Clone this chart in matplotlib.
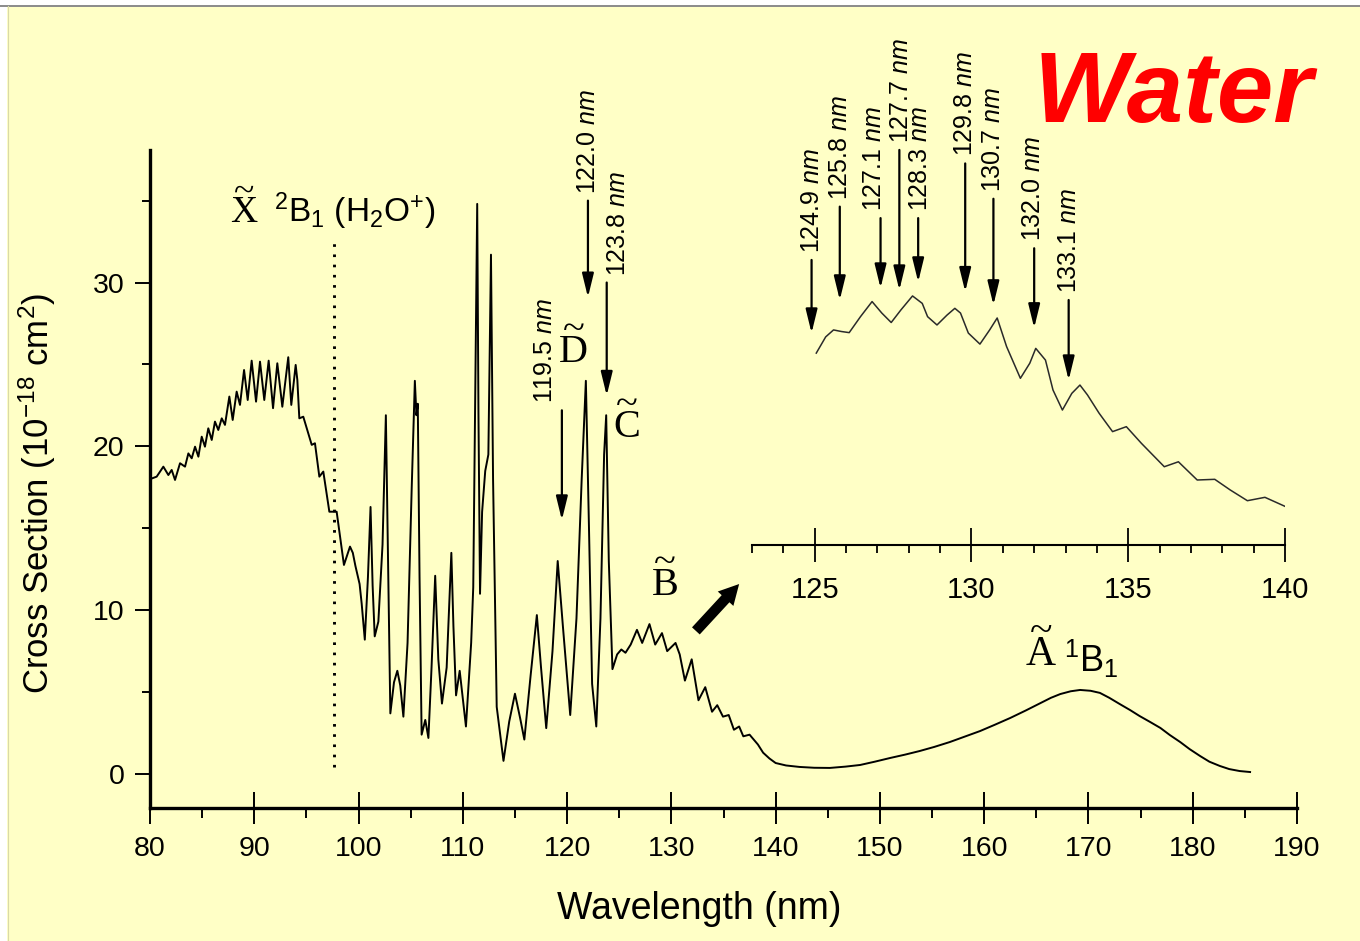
import matplotlib
matplotlib.use("Agg")
import matplotlib.pyplot as plt
from matplotlib.patches import Rectangle, FancyArrowPatch
from matplotlib.lines import Line2D
from matplotlib.ticker import MultipleLocator, FixedLocator

plt.rcParams["font.family"] = ["Liberation Sans", "DejaVu Sans"]
plt.rcParams["mathtext.fontset"] = "custom"
plt.rcParams["mathtext.rm"] = "Liberation Sans"
plt.rcParams["mathtext.it"] = "Liberation Sans:italic"
plt.rcParams["mathtext.bf"] = "Liberation Sans:bold"

# ---------------------------------------------------------------------------
# Photoabsorption cross section of H2O (10^-18 cm^2) versus wavelength (nm)
# ---------------------------------------------------------------------------
wavelength = [
    80.0, 80.64, 81.28, 81.76, 82.08, 82.4, 82.88, 83.36, 83.68, 84.0,
    84.32, 84.64, 84.96, 85.27, 85.59, 85.92, 86.23, 86.55, 86.88, 87.19,
    87.61, 87.93, 88.31, 88.63, 89.02, 89.37, 89.75, 90.17, 90.55, 90.96,
    91.38, 91.8, 92.21, 92.69, 93.26, 93.55, 93.97, 94.13, 94.32, 94.7,
    95.03, 95.51, 95.82, 96.24, 96.62, 97.2, 97.9, 98.6, 99.18, 99.45,
    99.7, 100.1, 100.3, 100.6, 100.9, 101.15, 101.35, 101.55, 101.9, 102.3,
    102.62, 102.85, 103.05, 103.4, 103.72, 104.0, 104.3, 104.7, 105.1, 105.4,
    105.55, 105.68, 105.85, 106.05, 106.4, 106.7, 107.0, 107.35, 107.65, 108.0,
    108.45, 108.9, 109.1, 109.35, 109.7, 110.3, 110.8, 111.0, 111.2, 111.38,
    111.5, 111.65, 111.85, 112.15, 112.45, 112.7, 112.9, 113.25, 113.9, 114.45,
    115.0, 115.5, 115.9, 116.5, 117.1, 117.5, 118.0, 118.6, 119.1, 119.6,
    120.3, 120.9, 121.4, 121.8, 122.1, 122.4, 122.8, 123.2, 123.55, 123.75,
    124.0, 124.35, 124.8, 125.2, 125.6, 126.1, 126.7, 127.2, 127.9, 128.45,
    129.1, 129.6, 130.4, 130.8, 131.3, 131.95, 132.6, 133.25, 133.9, 134.4,
    134.95, 135.5, 136.0, 136.5, 136.9, 137.5, 137.9, 138.3, 138.8, 139.4,
    140.0, 141.0, 142.3, 143.7, 145.2, 146.7, 148.1, 149.5, 151.0, 152.4,
    153.8, 155.2, 156.7, 158.1, 159.6, 161.0, 162.5, 164.0, 165.4, 166.4,
    167.3, 168.3, 169.2, 170.2, 171.1, 172.0, 173.0, 174.0, 174.9, 175.9,
    176.9, 177.8, 178.8, 179.7, 180.7, 181.6, 182.6, 183.5, 184.5, 185.5,
]
cross_section = [
    18.0, 18.15, 18.76, 18.25, 18.56, 17.95, 18.97, 18.76, 19.57, 19.27,
    19.98, 19.37, 20.59, 19.98, 21.1, 20.39, 21.51, 21.0, 21.71, 21.31,
    23.04, 21.61, 23.34, 22.53, 24.66, 22.83, 25.23, 22.73, 25.17, 22.83,
    25.23, 22.33, 25.07, 22.42, 25.44, 22.53, 24.97, 24.05, 21.71, 21.81,
    21.1, 20.09, 20.19, 18.15, 18.46, 16.01, 16.01, 12.76, 13.88, 13.5,
    12.7, 11.6, 10.4, 8.2, 12.0, 16.3, 11.5, 8.4, 9.3, 14.0,
    21.9, 12.0, 3.7, 5.6, 6.3, 5.4, 3.5, 8.0, 17.5, 24.0,
    21.9, 22.6, 12.0, 2.4, 3.3, 2.2, 6.5, 12.1, 7.0, 4.3,
    6.5, 13.5, 9.0, 4.8, 6.3, 2.9, 8.0, 11.4, 23.4, 34.8,
    22.0, 11.0, 16.0, 18.5, 19.5, 31.7, 18.0, 4.1, 0.8, 3.2,
    4.9, 3.4, 2.1, 6.0, 9.7, 6.5, 2.8, 7.5, 13.0, 9.0,
    3.6, 9.5, 18.0, 24.0, 15.0, 5.5, 2.9, 9.5, 19.5, 21.9,
    13.0, 6.4, 7.3, 7.6, 7.4, 7.9, 8.8, 8.0, 9.15, 7.9,
    8.6, 7.5, 8.0, 7.3, 5.7, 7.0, 4.5, 5.3, 3.8, 4.2,
    3.5, 3.6, 2.7, 2.9, 2.3, 2.4, 2.1, 1.8, 1.3, 0.95,
    0.67, 0.52, 0.43, 0.38, 0.37, 0.45, 0.55, 0.75, 0.98, 1.18,
    1.40, 1.65, 1.95, 2.27, 2.62, 3.0, 3.42, 3.88, 4.33, 4.65,
    4.88, 5.05, 5.13, 5.08, 4.95, 4.65, 4.27, 3.9, 3.54, 3.18,
    2.81, 2.38, 1.95, 1.52, 1.10, 0.75, 0.49, 0.30, 0.18, 0.12,
]

# Expanded view of the B-band region (125-140 nm)
zoom_wavelength = [
    125.05, 125.35, 125.6, 125.85, 126.1, 126.46, 126.83, 127.14, 127.44, 127.75,
    128.12, 128.43, 128.6, 128.9, 129.22, 129.47, 129.65, 129.9, 130.27, 130.58,
    130.82, 131.12, 131.56, 131.86, 132.05, 132.36, 132.6, 132.9, 133.2, 133.46,
    133.7, 134.07, 134.5, 134.94, 135.42, 136.15, 136.6, 137.2, 137.76, 138.25,
    138.8, 139.36, 140.03,
]
zoom_cross_section = [
    7.64, 8.36, 8.67, 8.6, 8.55, 9.26, 9.93, 9.42, 9.0, 9.56,
    10.18, 9.85, 9.26, 8.89, 9.33, 9.63, 9.42, 8.53, 8.04, 8.67,
    9.2, 7.93, 6.52, 7.19, 7.85, 7.33, 6.0, 5.11, 5.85, 6.22,
    5.78, 4.97, 4.15, 4.37, 3.63, 2.59, 2.81, 2.0, 2.03, 1.56,
    1.08, 1.23, 0.81,
]

# Marked band positions (nm) in the main panel and in the expanded view
main_marks = [119.5, 122.0, 123.8]
zoom_marks = [124.9, 125.8, 127.1, 127.7, 128.3, 129.8, 130.7, 132.0, 133.1]

main_ticks_x = [80, 90, 100, 110, 120, 130, 140, 150, 160, 170, 180, 190]
main_ticks_y = [0, 10, 20, 30]
zoom_ticks_x = [125, 130, 135, 140]

# ---------------------------------------------------------------------------
W, H = 1360, 941
BG = "#FFFFC6"
fig = plt.figure(figsize=(W / 100, H / 100), dpi=100)
fig.patch.set_facecolor("white")


def fx(px):
    return px / W


def fy(py):
    return 1 - py / H


fig.add_artist(Rectangle((fx(7), 0), 1, fy(6), transform=fig.transFigure,
                         facecolor=BG, edgecolor="none", zorder=-5))
fig.add_artist(Line2D([0, 1], [fy(5.5), fy(5.5)], transform=fig.transFigure,
                      color="#8a8a8a", lw=1.4))
fig.add_artist(Line2D([fx(7.5), fx(7.5)], [0, fy(6)], transform=fig.transFigure,
                      color="#d9d9a8", lw=0.8))

# ---------------- main panel ----------------
ax = fig.add_axes([fx(150), fy(808), fx(1297) - fx(150), fy(150) - fy(808)])
ax.set_facecolor("none")
ax.plot(wavelength, cross_section, color="black", lw=1.4, solid_joinstyle="round")
ax.set_xlim(80, 190)
ax.set_ylim(-2.076, 38.09)
for side in ("top", "right"):
    ax.spines[side].set_visible(False)
for side in ("left", "bottom"):
    ax.spines[side].set_linewidth(2.4)

ax.xaxis.set_major_locator(FixedLocator(main_ticks_x))
ax.xaxis.set_minor_locator(MultipleLocator(5))
ax.yaxis.set_major_locator(FixedLocator(main_ticks_y))
ax.yaxis.set_minor_locator(FixedLocator([5, 15, 25, 35]))
ax.tick_params(axis="x", which="major", direction="inout", length=23.5, width=1.4,
               pad=8.5, labelsize=20.5)
ax.tick_params(axis="x", which="minor", direction="out", length=7, width=1.4)
ax.tick_params(axis="y", which="major", direction="out", length=10.5, width=1.4,
               pad=8, labelsize=20.5)
ax.tick_params(axis="y", which="minor", direction="out", length=5.5, width=1.4)

# ionisation threshold
ax.plot([97.6, 97.6], [0.4, 32.4], color="black", lw=2.1, ls=(0, (0.9, 2.6)))

SERIF = ["Liberation Serif", "DejaVu Serif"]


def tilde_letter(axis, x, y, letter, size):
    """Serif state letter with a tilde above it, as one two-line text."""
    axis.annotate("~\n" + letter, xy=(x, y), xytext=(0, -0.217 * size),
                  textcoords="offset points", family=SERIF, fontsize=size,
                  ha="center", va="bottom", multialignment="center",
                  linespacing=0.47, annotation_clip=False)


tilde_letter(ax, 89.0, 33.7, "X", 27)
ax.text(91.9, 33.7, r"$^{2}$B$_{1}$ (H$_{2}$O$^{+}$)", fontsize=24,
        ha="left", va="baseline")
tilde_letter(ax, 120.65, 25.15, "D", 29)
tilde_letter(ax, 125.75, 20.57, "C", 29)
tilde_letter(ax, 129.39, 10.93, "B", 29)
tilde_letter(ax, 165.45, 6.65, "A", 30)
ax.text(167.66, 6.23, r"$^{1}$B$_{1}$", fontsize=26, ha="left", va="baseline")

ARROW = "-|>,head_length=0.9,head_width=0.22"


def marked_arrow(axis, x, y_tail, y_tip, text, dx_pt):
    axis.annotate("", xy=(x, y_tip), xytext=(x, y_tail),
                  arrowprops=dict(arrowstyle=ARROW, lw=1.6, color="black",
                                  shrinkA=0, shrinkB=0, mutation_scale=16),
                  annotation_clip=False)
    axis.annotate(text, xy=(x, y_tail), xytext=(dx_pt, 5), textcoords="offset points",
                  rotation=90, ha="center", va="bottom", fontsize=18,
                  annotation_clip=False)


main_tails = [22.2, 35.0, 30.0]
main_tips = [15.5, 29.1, 23.1]
main_dx = [-12, 0, 8]
for x, yt, yp, dx in zip(main_marks, main_tails, main_tips, main_dx):
    marked_arrow(ax, x, yt, yp, f"{x:.1f} " + r"$\mathit{nm}$", dx)

# pointer from the B band to the expanded view
ax.add_patch(FancyArrowPatch((132.17, 8.61), (136.68, 11.72),
                             arrowstyle="simple,head_length=0.8,head_width=0.85,tail_width=0.42",
                             mutation_scale=18, color="black", lw=0))

# ---------------- expanded view ----------------
ins = fig.add_axes([fx(752), fy(545), fx(1285) - fx(752), fy(280) - fy(545)])
ins.set_facecolor("none")
ins.plot(zoom_wavelength, zoom_cross_section, color="#2a2a2a", lw=1.1)
ins.set_xlim(123, 140)
ins.set_ylim(-0.889, 10.889)
for side in ("top", "right", "left"):
    ins.spines[side].set_visible(False)
ins.spines["bottom"].set_linewidth(1.5)
ins.yaxis.set_visible(False)
ins.xaxis.set_major_locator(FixedLocator(zoom_ticks_x))
ins.xaxis.set_minor_locator(MultipleLocator(1))
ins.tick_params(axis="x", which="major", direction="inout", length=24, width=1.3,
                pad=10, labelsize=21)
ins.tick_params(axis="x", which="minor", direction="out", length=5.5, width=1.3)

zoom_tails = [11.78, 14.15, 13.64, 16.67, 13.64, 16.07, 14.5, 12.3, 10.0]
zoom_tips = [8.53, 10.0, 10.53, 10.44, 10.8, 10.37, 9.78, 8.76, 6.44]
zoom_dx = [0, 0, -5, 1, 1, 0, 0, -1, 0]
for x, yt, yp, dx in zip(zoom_marks, zoom_tails, zoom_tips, zoom_dx):
    marked_arrow(ins, x, yt, yp, f"{x:.1f} " + r"$\mathit{nm}$", dx)

# ---------------- titles ----------------
fig.text(fx(699), fy(909), "Wavelength (nm)", ha="center", va="center", fontsize=27)
fig.text(fx(37), fy(493), r"Cross Section (10$^{-18}$ cm$^{2}$)", rotation=90,
         ha="center", va="center", fontsize=25)
fig.text(fx(1034), fy(122), "Water", color="#FF0000", fontsize=73,
         fontweight="bold", fontstyle="italic", ha="left", va="baseline")

fig.savefig("out.png", dpi=100, facecolor=fig.get_facecolor())
